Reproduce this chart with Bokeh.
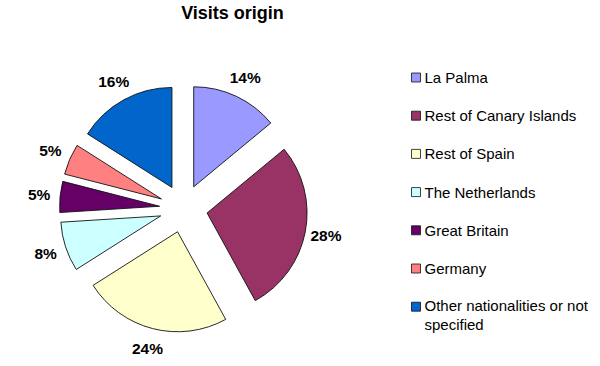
import math
from bokeh.plotting import figure
from bokeh.models import Range1d, ColumnDataSource
from bokeh.core.properties import value
from bokeh.embed import file_html
from bokeh.resources import INLINE

# ---- data ----
categories = ["La Palma", "Rest of Canary Islands", "Rest of Spain",
              "The Netherlands", "Great Britain", "Germany",
              "Other nationalities or not\nspecified"]
shares = [14, 28, 24, 8, 5, 5, 16]
colors = ["#9999FF", "#993366", "#FFFFCC", "#CCFFFF", "#660066", "#FF8080", "#0066CC"]
title_text = "Visits origin"

W, H = 600, 366
FONT = "Liberation Sans"

p = figure(width=W, height=H, output_backend="svg", toolbar_location=None,
           x_range=Range1d(0, W), y_range=Range1d(0, H), min_border=0,
           background_fill_color="white", border_fill_color="white")
p.axis.visible = False
p.grid.visible = False
p.outline_line_color = None

# pie geometry (screen y converted to y-up)
cx, cy = 183, H - 208
R = 100
explode = 24
label_r = 145

total = float(sum(shares))
xs, ys, starts, ends, lx, ly, ltxt = [], [], [], [], [], [], []
cum = 0.0
for v in shares:
    a0 = cum / total * 2 * math.pi          # clockwise from top
    a1 = (cum + v) / total * 2 * math.pi
    mid = (a0 + a1) / 2
    cum += v
    xs.append(cx + explode * math.sin(mid))
    ys.append(cy + explode * math.cos(mid))
    starts.append(math.pi / 2 - a1)
    ends.append(math.pi / 2 - a0)
    lx.append(cx + label_r * math.sin(mid))
    ly.append(cy + label_r * math.cos(mid))
    ltxt.append(f"{v / total * 100:.0f}%")

src = ColumnDataSource(dict(x=xs, y=ys, s=starts, e=ends, c=colors))
p.wedge(x="x", y="y", radius=R, start_angle="s", end_angle="e",
        direction="anticlock", fill_color="c", line_color="#111111",
        line_width=0.9, source=src)

p.text(x=lx, y=ly, text=ltxt, text_font=value(FONT), text_font_style="bold",
       text_font_size="15.5px", text_align="center", text_baseline="middle",
       text_color="black")

# title
p.text(x=[232], y=[H - 12], text=[title_text], text_font=value(FONT),
       text_font_style="bold", text_font_size="18px", text_align="center",
       text_baseline="middle", text_color="black")

# legend
leg_y = [H - (77 + 38.2 * i) for i in range(len(categories))]
p.rect(x=[415.5] * len(categories), y=leg_y, width=9, height=9,
       fill_color=colors, line_color="#111111", line_width=0.8)
leg_text_y = leg_y[:-1] + [leg_y[-1] - 8.5]
p.text(x=[424] * len(categories), y=leg_text_y, text=categories,
       text_font=value(FONT), text_font_size="15px", text_align="left",
       text_baseline="middle", text_color="black", text_line_height=1.15)

open("out.html", "w").write(file_html(p, INLINE))
